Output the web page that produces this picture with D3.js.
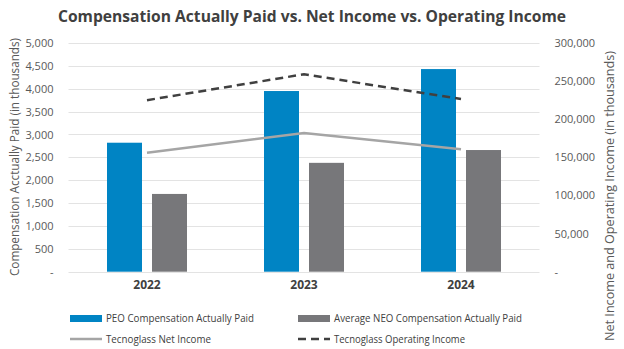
<!DOCTYPE html>
<html><head><meta charset="utf-8">
<script src="https://cdn.jsdelivr.net/npm/d3@7"></script>
<style>body{margin:0;background:#fff}svg{display:block}</style>
</head><body>
<script>
const years = ["2022", "2023", "2024"];
const peoCAP = [2820, 3950, 4430];
const neoCAP = [1700, 2380, 2660];
const netIncome = [156000, 182000, 160500];
const opIncome = [225000, 259000, 226500];
const leftTicks = [0, 500, 1000, 1500, 2000, 2500, 3000, 3500, 4000, 4500, 5000];
const rightTicks = [0, 50000, 100000, 150000, 200000, 250000, 300000];

const W = 624, H = 349;
const font = "'Open Sans', sans-serif";
const svg = d3.select("body").append("svg").attr("width", W).attr("height", H).style("font-family", font);
const pL = 68.5, pR = 539.5, pT = 43, pB = 271.7;

const x = d3.scaleBand().domain(years).range([pL, pR]).paddingInner(0).paddingOuter(0);
const yL = d3.scaleLinear().domain([0, 5000]).range([pB, pT]);
const yR = d3.scaleLinear().domain([0, 300000]).range([pB, pT]);
const fmt = v => v === 0 ? "-" : d3.format(",")(v);

// gridlines
svg.append("g").selectAll("line").data(leftTicks).join("line")
  .attr("x1", pL).attr("x2", pR)
  .attr("y1", d => Math.round(yL(d)) + 0.5).attr("y2", d => Math.round(yL(d)) + 0.5)
  .attr("stroke", "#e3e3e3").attr("stroke-width", 1);

// left axis
const axL = svg.append("g").attr("transform", `translate(${pL - 12},0)`)
  .call(d3.axisLeft(yL).tickValues(leftTicks).tickFormat(fmt).tickSize(0));
axL.select(".domain").remove();
axL.selectAll("text").attr("fill", "#595959").style("font-size", "11px").style("font-family", font);

// right axis
const axR = svg.append("g").attr("transform", `translate(${pR + 12},0)`)
  .call(d3.axisRight(yR).tickValues(rightTicks).tickFormat(fmt).tickSize(0));
axR.select(".domain").remove();
axR.selectAll("text").attr("fill", "#595959").style("font-size", "11px").style("font-family", font);

// x labels
const axX = svg.append("g").attr("transform", `translate(0,${pB + 6})`)
  .call(d3.axisBottom(x).tickSize(0));
axX.select(".domain").remove();
axX.selectAll("text").attr("fill", "#404040").style("font-size", "12px").style("font-weight", "bold").style("font-family", font);

// bars
const bw = 35, gap = 10;
const cx = d => x(d) + x.bandwidth() / 2;
svg.append("g").selectAll("rect").data(years).join("rect")
  .attr("x", d => cx(d) - gap / 2 - bw).attr("width", bw)
  .attr("y", (d, i) => yL(peoCAP[i])).attr("height", (d, i) => pB - yL(peoCAP[i]))
  .attr("fill", "#0084c4");
svg.append("g").selectAll("rect").data(years).join("rect")
  .attr("x", d => cx(d) + gap / 2).attr("width", bw)
  .attr("y", (d, i) => yL(neoCAP[i])).attr("height", (d, i) => pB - yL(neoCAP[i]))
  .attr("fill", "#77777a");

// lines
const line = arr => d3.line().x((d, i) => cx(years[i])).y(d => yR(d))(arr);
svg.append("path").attr("d", line(netIncome)).attr("fill", "none")
  .attr("stroke", "#a5a5a5").attr("stroke-width", 2.5);
svg.append("path").attr("d", line(opIncome)).attr("fill", "none")
  .attr("stroke", "#404040").attr("stroke-width", 2.5).attr("stroke-dasharray", "8,5");

// title
svg.append("text").attr("x", 312).attr("y", 22).attr("text-anchor", "middle")
  .attr("fill", "#404040").style("font-size", "16.5px").style("font-weight", "bold")
  .attr("textLength", 508).attr("lengthAdjust", "spacingAndGlyphs")
  .text("Compensation Actually Paid vs. Net Income vs. Operating Income");

// axis titles
svg.append("text").attr("transform", `translate(19,157) rotate(-90)`).attr("text-anchor", "middle")
  .attr("fill", "#595959").style("font-size", "12px")
  .attr("textLength", 238).attr("lengthAdjust", "spacingAndGlyphs")
  .text("Compensation Acctually Paid (in thousands)");
svg.append("text").attr("transform", `translate(614,196) rotate(-90)`).attr("text-anchor", "middle")
  .attr("fill", "#595959").style("font-size", "12px")
  .attr("textLength", 290).attr("lengthAdjust", "spacingAndGlyphs")
  .text("Net Income and Operating Income (in thousands)");

// legend
const leg = svg.append("g").style("font-size", "11px").attr("fill", "#404040");
const items = [
  {t: "PEO Compensation Actually Paid", x: 70, y: 318, type: "rect", c: "#0084c4", w: 148},
  {t: "Average NEO Compensation Actually Paid", x: 298, y: 318, type: "rect", c: "#77777a", w: 188},
  {t: "Tecnoglass Net Income", x: 70, y: 339, type: "line", c: "#a5a5a5", w: 105},
  {t: "Tecnoglass Operating Income", x: 298, y: 339, type: "dash", c: "#404040", w: 131}
];
items.forEach(it => {
  if (it.type === "rect") {
    leg.append("rect").attr("x", it.x).attr("y", it.y - 3).attr("width", 32).attr("height", 7).attr("fill", it.c);
  } else {
    leg.append("line").attr("x1", it.x).attr("x2", it.x + 32).attr("y1", it.y).attr("y2", it.y)
      .attr("stroke", it.c).attr("stroke-width", 2.5)
      .attr("stroke-dasharray", it.type === "dash" ? "8,5" : null);
  }
  leg.append("text").attr("x", it.x + 36).attr("y", it.y + 4)
    .attr("textLength", it.w).attr("lengthAdjust", "spacingAndGlyphs").text(it.t);
});
</script>
</body></html>
